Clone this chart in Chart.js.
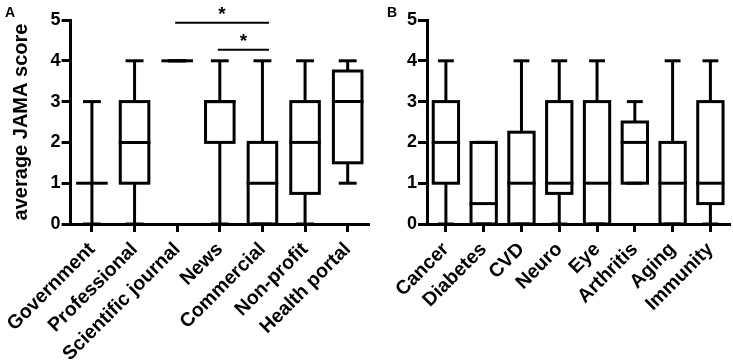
<!DOCTYPE html>
<html>
<head>
<meta charset="utf-8">
<script src="https://cdn.jsdelivr.net/npm/chart.js@4.4.1/dist/chart.umd.min.js"></script>
<style>
  body { margin: 0; background: #fff; }
  #wrap { position: relative; width: 733px; height: 361px; }
  canvas { position: absolute; top: 0; }
  #chartA { left: 0; }
  #chartB { left: 370px; }
  .tag { position: absolute; top: 5px; font: bold 14px/14px 'Liberation Sans', Arial, sans-serif; color: #000; }
</style>
</head>
<body>
<div id="wrap">
  <canvas id="chartA" width="370" height="361"></canvas>
  <canvas id="chartB" width="363" height="361"></canvas>
  <div class="tag" style="left:5px">A</div>
  <div class="tag" style="left:387px">B</div>
</div>
<script>
const FONT = "'Liberation Sans', Arial, sans-serif";

// panel A - source type
const sourceTypes = ["Government", "Professional", "Scientific journal", "News", "Commercial", "Non-profit", "Health portal"];
const sourceMin = [0, 0, 4, 0, 0, 0, 1];
const sourceQ1 = [1, 1, 4, 2, 0, 0.75, 1.5];
const sourceMedian = [1, 2, 4, 3, 1, 2, 3];
const sourceQ3 = [1, 3, 4, 3, 2, 3, 3.75];
const sourceMax = [3, 4, 4, 4, 4, 4, 4];

// significance bars (panel A)
const sigFrom = ["Scientific journal", "News"];
const sigTo = ["Commercial", "Commercial"];
const sigLevel = [4.93, 4.27];
const sigMark = ["*", "*"];

// panel B - disease
const diseases = ["Cancer", "Diabetes", "CVD", "Neuro", "Eye", "Arthritis", "Aging", "Immunity"];
const diseaseMin = [0, 0, 0, 0, 0, 1, 0, 0];
const diseaseQ1 = [1, 0, 0, 0.75, 0, 1, 0, 0.5];
const diseaseMedian = [2, 0.5, 1, 1, 1, 2, 1, 1];
const diseaseQ3 = [3, 2, 2.25, 3, 3, 2.5, 2, 3];
const diseaseMax = [4, 2, 4, 4, 4, 3, 4, 4];

const yTicks = [0, 1, 2, 3, 4, 5];

function line(ctx, x0, y0, x1, y1) {
  ctx.beginPath();
  ctx.moveTo(x0, y0);
  ctx.lineTo(x1, y1);
  ctx.stroke();
}

// box outline, whiskers, caps and medians, drawn through the chart's scales
function boxPlugin(mins, meds, q1s, q3s, maxs, sig) {
  return {
    id: "boxparts",
    afterDatasetsDraw(chart) {
      const ctx = chart.ctx;
      const x = chart.scales.x, y = chart.scales.y;
      const meta = chart.getDatasetMeta(0);
      const step = x.getPixelForValue(1) - x.getPixelForValue(0);
      const cap = step * 0.21;
      ctx.save();
      ctx.strokeStyle = "#000";
      ctx.lineWidth = 3;
      ctx.lineCap = "butt";
      ctx.lineJoin = "miter";
      mins.forEach((mn, i) => {
        const cx = x.getPixelForValue(i);
        const half = meta.data[i].width / 2;
        const yMin = y.getPixelForValue(mn), yMax = y.getPixelForValue(maxs[i]);
        const yQ1 = y.getPixelForValue(q1s[i]), yQ3 = y.getPixelForValue(q3s[i]);
        line(ctx, cx, yMin, cx, yQ1);
        line(ctx, cx, yQ3, cx, yMax);
        line(ctx, cx - cap, yMin, cx + cap, yMin);
        line(ctx, cx - cap, yMax, cx + cap, yMax);
        if (yQ1 !== yQ3) ctx.strokeRect(cx - half, yQ3, half * 2, yQ1 - yQ3);
        const ym = y.getPixelForValue(meds[i]);
        line(ctx, cx - half - 1.5, ym, cx + half + 1.5, ym);
      });
      if (sig) {
        ctx.lineWidth = 2;
        ctx.fillStyle = "#000";
        ctx.font = "bold 19px " + FONT;
        ctx.textAlign = "center";
        ctx.textBaseline = "middle";
        sig.from.forEach((f, k) => {
          const x0 = x.getPixelForValue(x.getLabels().indexOf(f)) - 2;
          const x1 = x.getPixelForValue(x.getLabels().indexOf(sig.to[k])) + 6.5;
          const yy = y.getPixelForValue(sig.level[k]);
          line(ctx, x0, yy, x1, yy);
          ctx.fillText(sig.mark[k], (x0 + x1) / 2, yy - 8);
        });
      }
      ctx.restore();
    }
  };
}

function makeChart(id, labels, mins, q1s, meds, q3s, maxs, yWidth, title, sig) {
  return new Chart(document.getElementById(id).getContext("2d"), {
    type: "bar",
    data: {
      labels: labels,
      datasets: [
        {
          data: q1s.map((q, i) => [q, q3s[i]]),
          backgroundColor: "#fff",
          borderWidth: 0,
          barPercentage: 0.67,
          categoryPercentage: 1,
        },
      ],
    },
    options: {
      responsive: false,
      animation: false,
      layout: { padding: { top: 20, right: 1, left: 0, bottom: 0 } },
      plugins: { legend: { display: false }, tooltip: { enabled: false } },
      scales: {
        x: {
          offset: true,
          grid: { offset: false, drawOnChartArea: false, color: "#000", lineWidth: 3, tickLength: 8 },
          border: { color: "#000", width: 3 },
          ticks: {
            color: "#000",
            font: { family: FONT, size: 19.5, weight: "bold" },
            maxRotation: 45,
            minRotation: 45,
            padding: 6,
            autoSkip: false,
          },
          afterFit(s) { s.height = 137; },
        },
        y: {
          min: 0,
          max: 5,
          afterBuildTicks(s) { s.ticks = yTicks.map((v) => ({ value: v })); },
          grid: { drawOnChartArea: false, color: "#000", lineWidth: 3, tickLength: 9 },
          border: { color: "#000", width: 3 },
          ticks: { color: "#000", font: { family: FONT, size: 18, weight: "bold" }, padding: 1 },
          title: {
            display: !!title,
            text: title || "",
            color: "#000",
            font: { family: FONT, size: 20, weight: "bold" },
            padding: { top: 5, bottom: 0 },
          },
          afterFit(s) { s.width = yWidth; },
        },
      },
    },
    plugins: [boxPlugin(mins, meds, q1s, q3s, maxs, sig)],
  });
}

makeChart("chartA", sourceTypes, sourceMin, sourceQ1, sourceMedian, sourceQ3, sourceMax, 66,
  "average JAMA score", { from: sigFrom, to: sigTo, level: sigLevel, mark: sigMark });
makeChart("chartB", diseases, diseaseMin, diseaseQ1, diseaseMedian, diseaseQ3, diseaseMax, 57, null, null);
</script>
</body>
</html>
